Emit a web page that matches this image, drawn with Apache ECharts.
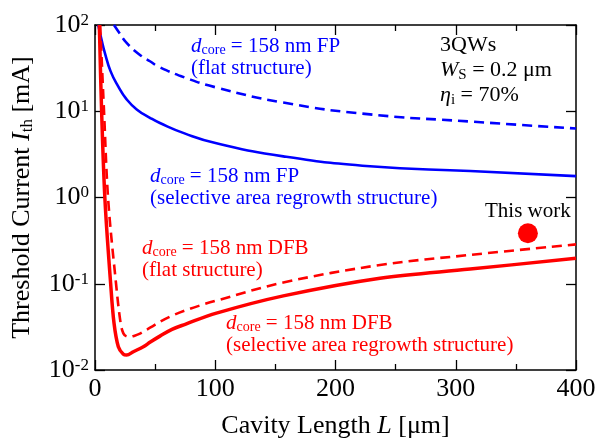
<!DOCTYPE html>
<html>
<head>
<meta charset="utf-8">
<script src="https://cdn.jsdelivr.net/npm/echarts@6/dist/echarts.min.js"></script>
<style>html,body{margin:0;padding:0;background:#fff}#c{width:600px;height:441px}</style>
</head>
<body>
<div id="c"></div>
<script>
// Cavity length L [um] vs threshold current I_th [mA]
const fpFlat = [[15.8,100],[20,82],[26.3,62],[37.4,45],[45.7,38],[52.7,33],[75,24.5],[100,19],[156.6,12.6],[228.7,9.2],[312,7.6],[400,6.3]];
const fpRegrowth = [[2.7,100],[5.5,67],[8.3,47],[13,29],[19.4,19.3],[26,13.9],[34.7,10.5],[45.7,8.4],[54,7.3],[75,5.5],[101,4.25],[156.6,3.0],[228.7,2.3],[312,2.03],[400,1.77]];
const dfbFlat = [[4.3,100],[7.5,10],[11,0.93],[17.5,0.1],[21.3,0.035],[23.6,0.0266],[26.3,0.0245],[29,0.0243],[33,0.025],[37.4,0.0264],[42,0.0288],[47,0.0316],[54,0.0362],[64,0.0425],[75,0.049],[87.3,0.056],[101,0.0638],[156.6,0.1035],[237,0.165],[312,0.216],[400,0.286]];
const dfbRegrowth = [[3.6,100],[5.5,10],[8.3,0.93],[13,0.101],[15.8,0.035],[19.4,0.0186],[23.6,0.0152],[26.3,0.0149],[31.9,0.0163],[40.2,0.0186],[46,0.0211],[54,0.0247],[64,0.0296],[75,0.0339],[101,0.0457],[156.6,0.0724],[237,0.116],[312,0.148],[400,0.197]];
const thisWork = [[360,0.385]];
const xTicks = [0,100,200,300,400];
const yTickValues = [0.01,0.1,1,10,100];
const yTickExps = ['-2','-1','0','1','2'];

const SERIF = '"Liberation Serif","DejaVu Serif",serif';
const chart = echarts.init(document.getElementById('c'), null, {renderer:'canvas'});

const axisLineStyle = {color:'#000', width:1.5};
const xBase = {
  type:'value', min:0, max:400, interval:100,
  axisLine:{show:true, onZero:false, lineStyle:axisLineStyle},
  axisTick:{show:true, inside:true, length:10, lineStyle:{color:'#000', width:1.3}},
  minorTick:{show:true, splitNumber:2, length:6, lineStyle:{color:'#000', width:1.3}},
  splitLine:{show:false}, minorSplitLine:{show:false}
};
const yBase = {
  type:'log', logBase:10, min:0.01, max:100,
  axisLine:{show:true, onZero:false, lineStyle:axisLineStyle},
  axisTick:{show:true, inside:true, length:10, lineStyle:{color:'#000', width:1.3}},
  minorTick:{show:false},
  splitLine:{show:false}
};

const rich = (extra) => Object.assign({
  n:{fontFamily:SERIF, fontSize:21, lineHeight:22},
  i:{fontFamily:SERIF, fontSize:21, fontStyle:'italic', lineHeight:22},
  s:{fontFamily:SERIF, fontSize:14, lineHeight:11, verticalAlign:'bottom'}
}, extra||{});

function txt(x, y, text, color, extra){
  return {type:'text', left:x, top:y, z:100,
    style:{text:text, fill:color, font:'21px '+SERIF, rich:rich(extra), lineHeight:22}};
}

const lineCommon = {type:'line', symbol:'none', showSymbol:false};

const option = {
  animation:false,
  backgroundColor:'#fff',
  grid:{left:95, right:24, top:25, bottom:71, containLabel:false, outerBoundsMode:'none'},
  xAxis:[
    Object.assign({}, xBase, {position:'bottom',
      axisLabel:{show:true, margin:6, color:'#000', fontFamily:SERIF, fontSize:26,
        formatter:(v)=> xTicks.indexOf(v)>=0 ? String(v) : ''},
      name:'Cavity Length {i|L} [μm]', nameLocation:'middle', nameGap:43,
      nameTextStyle:{color:'#000', fontFamily:SERIF, fontSize:26,
        rich:{i:{fontFamily:SERIF, fontSize:26, fontStyle:'italic'}}}
    }),
    Object.assign({}, xBase, {position:'top', axisLabel:{show:false}})
  ],
  yAxis:[
    Object.assign({}, yBase, {position:'left',
      axisLabel:{show:true, margin:6, color:'#000',
        formatter:(v)=>{ const k = yTickValues.findIndex(t=>Math.abs(Math.log10(t)-Math.log10(v))<1e-6); return k<0?'':'{b|10}{e|'+yTickExps[k]+'}'; },
        rich:{b:{fontFamily:SERIF, fontSize:26, lineHeight:26, color:'#000'},
              e:{fontFamily:SERIF, fontSize:17, lineHeight:17, verticalAlign:'top', color:'#000'}}},
      name:'Threshold Current {i|I}{s|th} [mA]', nameLocation:'middle', nameGap:59, nameRotate:90,
      nameTextStyle:{color:'#000', fontFamily:SERIF, fontSize:26, lineHeight:28,
        rich:{i:{fontFamily:SERIF, fontSize:26, fontStyle:'italic', lineHeight:28},
              s:{fontFamily:SERIF, fontSize:17, lineHeight:14, verticalAlign:'bottom'}}}
    }),
    Object.assign({}, yBase, {position:'right', axisLabel:{show:false}})
  ],
  graphic:[
    txt(191, 35, '{i|d}{s|core}{n| = 158 nm FP}\n{n|(flat structure)}', '#0000ff'),
    txt(150, 165, '{i|d}{s|core}{n| = 158 nm FP}\n{n|(selective area regrowth structure)}', '#0000ff'),
    txt(142, 237, '{i|d}{s|core}{n| = 158 nm DFB}\n{n|(flat structure)}', '#ff0000'),
    txt(226, 312, '{i|d}{s|core}{n| = 158 nm DFB}\n{n|(selective area regrowth structure)}', '#ff0000'),
    {type:'text', left:440, top:34, z:100,
      style:{text:'{n|3QWs}\n{i|W}{s|S}{n| = 0.2 μm}\n{i|η}{s|i}{n| = 70%}', fill:'#000',
        rich:{n:{fontFamily:SERIF, fontSize:22, lineHeight:25, fill:'#000'},
              i:{fontFamily:SERIF, fontSize:22, fontStyle:'italic', lineHeight:25, fill:'#000'},
              s:{fontFamily:SERIF, fontSize:15, lineHeight:14, verticalAlign:'bottom', fill:'#000'}}}}
  ],
  series:[
    Object.assign({name:'FP flat', data:fpFlat, smooth:0.5, lineStyle:{color:'#0000ff', width:2.6, type:[10,6]}}, lineCommon),
    Object.assign({name:'FP regrowth', data:fpRegrowth, smooth:0.5, lineStyle:{color:'#0000ff', width:2.6}}, lineCommon),
    Object.assign({name:'DFB flat', data:dfbFlat, smooth:0.35, lineStyle:{color:'#ff0000', width:2.6, type:[10,6]}}, lineCommon),
    Object.assign({name:'DFB regrowth', data:dfbRegrowth, smooth:0.35, lineStyle:{color:'#ff0000', width:3.5}}, lineCommon),
    {name:'This work', type:'scatter', data:thisWork, symbol:'circle', symbolSize:20,
      itemStyle:{color:'#ff0000', opacity:1},
      emphasis:{disabled:true},
      label:{show:true, position:'top', distance:1, formatter:'This work', color:'#000', fontFamily:SERIF, fontSize:21}}
  ]
};
chart.setOption(option);
</script>
</body>
</html>
